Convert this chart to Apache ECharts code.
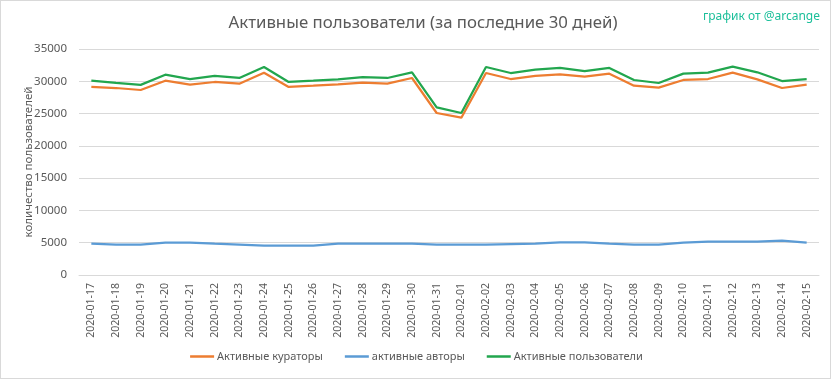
<!DOCTYPE html>
<html>
<head>
<meta charset="utf-8">
<script src="https://cdn.jsdelivr.net/npm/echarts@6/dist/echarts.min.js"></script>
<style>
html,body{margin:0;padding:0;background:#fff;}
#frame{position:absolute;left:0;top:0;width:829px;height:377px;border:1px solid #d9d9d9;box-sizing:content-box;}
#chart{width:833px;height:379px;position:absolute;left:0;top:0;}
</style>
</head>
<body>
<div id="frame"></div>
<div id="chart"></div>
<script>
const categories = ["2020-01-17","2020-01-18","2020-01-19","2020-01-20","2020-01-21","2020-01-22","2020-01-23","2020-01-24","2020-01-25","2020-01-26","2020-01-27","2020-01-28","2020-01-29","2020-01-30","2020-01-31","2020-02-01","2020-02-02","2020-02-03","2020-02-04","2020-02-05","2020-02-06","2020-02-07","2020-02-08","2020-02-09","2020-02-10","2020-02-11","2020-02-12","2020-02-13","2020-02-14","2020-02-15"];
const curators = [29120,28960,28650,30090,29470,29890,29630,31330,29120,29320,29530,29790,29630,30510,25090,24360,31280,30350,30820,31080,30710,31180,29320,29010,30200,30350,31330,30300,28960,29470];
const authors = [4850,4700,4700,5010,5010,4850,4700,4540,4540,4540,4850,4850,4850,4850,4700,4700,4700,4800,4850,5050,5050,4850,4700,4700,5010,5160,5160,5160,5320,5010];
const users = [30100,29750,29450,31020,30350,30820,30510,32210,29890,30090,30300,30660,30510,31390,25970,25090,32210,31280,31800,32060,31590,32060,30200,29735,31180,31330,32260,31390,30040,30350];
const seriesNames = ["Активные кураторы","активные авторы","Активные пользователи"];
const colors = ["#ED7D31","#5B9BD5","#22A64E"];

const chart = echarts.init(document.getElementById('chart'));
const font = "Noto Sans";
chart.setOption({
  animation:false,
  color: colors,
  title:[{
    text:"Активные пользователи (за последние 30 дней)",
    left:418, top:10, textAlign:'center',
    textStyle:{fontFamily:font,fontSize:16.8,fontWeight:'normal',color:'#595959'}
  },{
    text:"график от @arcange",
    right:8, top:6,
    textStyle:{fontFamily:font,fontSize:12,fontWeight:'normal',color:'#1BBF9A'}
  }],
  legend:{
    bottom:12, left:'center',
    icon:'rect',
    itemWidth:24, itemHeight:2.5, itemGap:22,
    textStyle:{fontFamily:font,fontSize:11,color:'#595959',padding:[0,0,0,-2]},
    data: seriesNames
  },
  grid:{left:79,right:14,top:49,bottom:104},
  xAxis:{
    type:'category', data:categories, boundaryGap:true,
    axisLine:{lineStyle:{color:'#d9d9d9'}},
    axisTick:{show:false},
    axisLabel:{rotate:90,interval:0,fontFamily:font,fontSize:10.5,color:'#595959',margin:8}
  },
  yAxis:{
    type:'value', min:0, max:35000, interval:5000,
    name:"количество пользователей", nameLocation:'middle', nameGap:44,
    nameMoveOverlap:false,
    nameTextStyle:{fontFamily:font,fontSize:11.5,color:'#595959'},
    axisLine:{show:false}, axisTick:{show:false},
    axisLabel:{fontFamily:font,fontSize:11.5,color:'#595959',margin:12,formatter:function(v){return String(v);}},
    splitLine:{lineStyle:{color:'#d9d9d9'}}
  },
  series:[
    {name:seriesNames[0],type:'line',data:curators,symbol:'none',lineStyle:{width:2.25}},
    {name:seriesNames[1],type:'line',data:authors,symbol:'none',lineStyle:{width:2.25}},
    {name:seriesNames[2],type:'line',data:users,symbol:'none',lineStyle:{width:2.25}}
  ]
});
</script>
</body>
</html>
